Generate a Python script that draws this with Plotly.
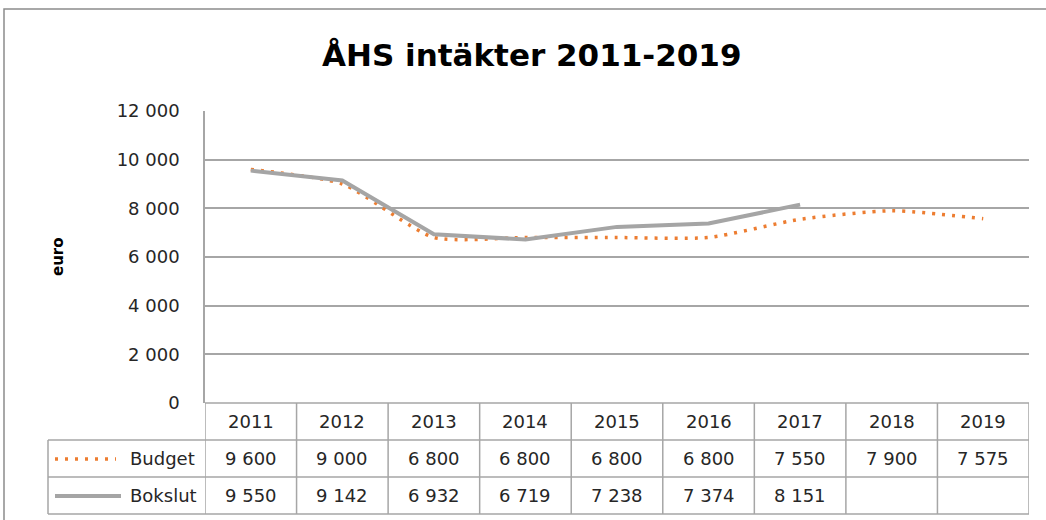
import plotly.graph_objects as go

years = ["2011", "2012", "2013", "2014", "2015", "2016", "2017", "2018", "2019"]
budget = [9600, 9000, 6800, 6800, 6800, 6800, 7550, 7900, 7575]
bokslut = [9550, 9142, 6932, 6719, 7238, 7374, 8151, None, None]
budget_txt = ["9 600", "9 000", "6 800", "6 800", "6 800", "6 800", "7 550", "7 900", "7 575"]
bokslut_txt = ["9 550", "9 142", "6 932", "6 719", "7 238", "7 374", "8 151", "", ""]
ytickvals = [0, 2000, 4000, 6000, 8000, 10000, 12000]
yticktext = ["0", "2 000", "4 000", "6 000", "8 000", "10 000", "12 000"]

ORANGE = "#ED7D31"
GRAY = "#A5A5A5"
LINE = "#A6A6A6"
FONT = "DejaVu Sans, sans-serif"

W, H = 1046, 520
L, R, T, B = 205, 17, 111, 117
pw, ph = W - L - R, H - T - B

def py(pix):  # pixel y -> paper y
    return (H - B - pix) / ph

def px(pix):  # pixel x -> paper x
    return (pix - L) / pw

xs = list(range(len(years)))

fig = go.Figure()
fig.add_trace(go.Scatter(x=xs, y=budget, mode="lines", name="Budget",
                         line=dict(color=ORANGE, width=3.5, dash="3px,7px", shape="spline", smoothing=0.6)))
fig.add_trace(go.Scatter(x=xs, y=bokslut, mode="lines", name="Bokslut",
                         line=dict(color=GRAY, width=4)))

shapes = []
# outer chart border
shapes.append(dict(type="rect", xref="paper", yref="paper", x0=px(4), x1=px(1060), y0=py(540), y1=py(9),
                   line=dict(color="#8C8C8C", width=1.5), layer="below"))
# table horizontal lines
row_y = [403, 440, 477, 514]
for i, yy in enumerate(row_y):
    shapes.append(dict(type="line", xref="paper", yref="paper",
                       x0=(0 if i == 0 else px(48)), x1=1, y0=py(yy), y1=py(yy),
                       line=dict(color=LINE, width=1.5)))
# left edge of data rows
shapes.append(dict(type="line", xref="paper", yref="paper", x0=px(48), x1=px(48), y0=py(440), y1=py(514),
                   line=dict(color=LINE, width=1.5)))
# column separators
for k in range(len(years) + 1):
    shapes.append(dict(type="line", xref="x", yref="paper", x0=k - 0.5, x1=k - 0.5, y0=py(403), y1=py(514),
                       line=dict(color=LINE, width=1.5)))
# legend keys
shapes.append(dict(type="line", xref="paper", yref="paper", x0=px(55), x1=px(116), y0=py(459), y1=py(459),
                   line=dict(color=ORANGE, width=3.5, dash="3px,7px")))
shapes.append(dict(type="line", xref="paper", yref="paper", x0=px(55), x1=px(121), y0=py(496), y1=py(496),
                   line=dict(color=GRAY, width=4)))

ann = []
tf = dict(family=FONT, size=18, color="#262626")
for k, yv in enumerate(years):
    ann.append(dict(x=k, y=py(421.5), xref="x", yref="paper", text=yv, showarrow=False, font=tf,
                    xanchor="center", yanchor="middle"))
    ann.append(dict(x=k, y=py(458.5), xref="x", yref="paper", text=budget_txt[k], showarrow=False, font=tf,
                    xanchor="center", yanchor="middle"))
    if bokslut_txt[k]:
        ann.append(dict(x=k, y=py(495.5), xref="x", yref="paper", text=bokslut_txt[k], showarrow=False,
                        font=tf, xanchor="center", yanchor="middle"))
ann.append(dict(x=px(197), y=py(458.5), xref="paper", yref="paper", text="Budget", showarrow=False,
                xanchor="right", yanchor="middle", font=tf))
ann.append(dict(x=px(199), y=py(495.5), xref="paper", yref="paper", text="Bokslut", showarrow=False,
                xanchor="right", yanchor="middle", font=tf))
ann.append(dict(x=px(58), y=py(257), xref="paper", yref="paper", text="<b>euro</b>", showarrow=False,
                textangle=-90, xanchor="center", yanchor="middle",
                font=dict(family=FONT, size=15, color="#000000")))
ann.append(dict(x=px(531), y=py(55), xref="paper", yref="paper", text="<b>ÅHS intäkter 2011-2019</b>",
                showarrow=False, xanchor="center", yanchor="middle",
                font=dict(family=FONT, size=31, color="#000000")))

fig.update_layout(
    width=W, height=H,
    margin=dict(l=L, r=R, t=T, b=B, pad=0),
    paper_bgcolor="white", plot_bgcolor="white",
    showlegend=False,
    shapes=shapes, annotations=ann,
    xaxis=dict(range=[-0.5, len(years) - 0.5], showticklabels=False, showgrid=False, zeroline=False,
               showline=False, ticks="", fixedrange=True),
    yaxis=dict(range=[0, 12000], tickvals=ytickvals, ticktext=yticktext, showgrid=True, gridcolor=LINE,
               gridwidth=1.5, zeroline=False, showline=True, linecolor=LINE, linewidth=1.5,
               ticks="", ticklabelstandoff=20, tickfont=tf),
)

fig.write_html("out.html", config={"displayModeBar": False},
               post_script="document.body.style.margin='0';document.body.style.overflow='hidden';")
